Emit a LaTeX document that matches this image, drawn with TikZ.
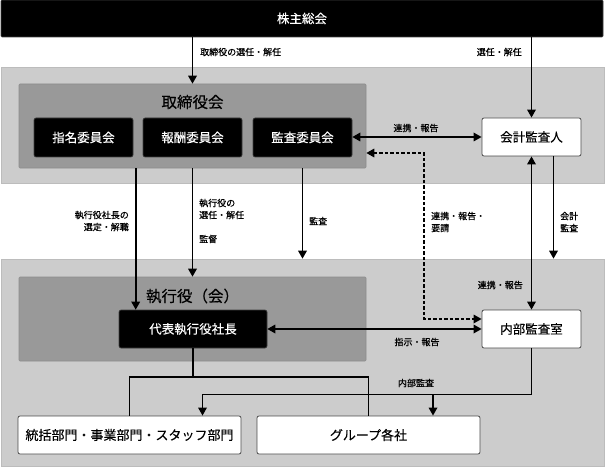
\documentclass[tikz,border=0pt]{standalone}
\usepackage{fontspec}
\newfontfamily\jpfont[FakeBold=0.3]{Noto Sans CJK JP}
\newfontfamily\jplblfont[FakeBold=0.6]{Noto Sans CJK JP}
\usetikzlibrary{arrows.meta}
\usetikzlibrary{calc}
\definecolor{bandgray}{HTML}{CCCCCC}
\definecolor{groupgray}{HTML}{999999}
\tikzset{%
    band/.style={fill=bandgray, draw=bandgray!92!black, line width=0.6pt, inner sep=0pt},
    groupbox/.style={fill=groupgray, draw=groupgray!92!black, line width=0.6pt, rounded corners=1pt, inner sep=0pt},
    blackbox/.style={fill=black, draw=black!75, line width=0.6pt, rounded corners=2pt, inner sep=0pt,
        text=white, font={\jpfont\fontsize{12.5}{14}\selectfont}},
    whitebox/.style={fill=white, draw=black!70, line width=0.8pt, rounded corners=2pt, inner sep=0pt,
        font={\jpfont\fontsize{12.5}{14}\selectfont}},
    grouptitle/.style={inner sep=0pt, font={\jpfont\fontsize{15.5}{18}\selectfont}},
    lbl/.style={inner sep=0pt, font={\jplblfont\fontsize{9}{12}\selectfont}},
    conn/.style={line width=1.7pt},
    arr/.style={conn, -{Triangle[length=8pt,width=8.5pt]}},
    biarr/.style={conn, {Triangle[length=8pt,width=8.5pt]}-{Triangle[length=8pt,width=8.5pt]}},
}

\begin{document}
\begin{tikzpicture}[x=1pt,y=-1pt]
\useasboundingbox (0,0) rectangle (605,468);
\node (band1) [band, minimum width=603pt, minimum height=116pt] at (302.5,125) {};
\node (band2) [band, minimum width=603pt, minimum height=207pt] at (302.5,362.5) {};
\node (gm) [blackbox, rounded corners=1pt, minimum width=602pt, minimum height=37pt] at (302,18.5) {株主総会};
\node (board) [groupbox, minimum width=347pt, minimum height=84pt] at (192.5,126) {};
\node (boardt) [grouptitle] at (192.5,102) {取締役会};
\node (nom) [blackbox, minimum width=99pt, minimum height=39pt] at (83.5,137.5) {指名委員会};
\node (rem) [blackbox, minimum width=99pt, minimum height=39pt] at (192.5,137.5) {報酬委員会};
\node (aud) [blackbox, minimum width=99pt, minimum height=39pt] at (302.5,137.5) {監査委員会};
\node (acc) [whitebox, minimum width=99pt, minimum height=38pt] at (531.5,137) {会計監査人};
\node (exec) [groupbox, minimum width=347pt, minimum height=84pt] at (192.5,319) {};
\node (exect) [grouptitle] at (192.5,296) {執行役（会）};
\node (ceo) [blackbox, minimum width=148pt, minimum height=38pt] at (193,329) {代表執行役社長};
\node (ia) [whitebox, minimum width=99pt, minimum height=38pt] at (531.5,329) {内部監査室};
\node (div) [whitebox, minimum width=223pt, minimum height=38pt, font={\jpfont\fontsize{13}{15}\selectfont}] at (129.5,435) {統括部門・事業部門・スタッフ部門};
\node (grp) [whitebox, minimum width=223pt, minimum height=38pt, font={\jpfont\fontsize{13}{15}\selectfont}] at (368.5,435) {グループ各社};

\coordinate (ceox) at ($(ceo.north west)+(17,0)$);
\coordinate (accr) at ($(acc.south)+(22,0)$);
\coordinate (dtop) at (424,153);
\coordinate (dbot) at (424,319);
\coordinate (split) at ($(ceo.south)+(0,29)$);
\coordinate (iaj) at ($(ia.south)+(0,46)$);
\coordinate (diva) at ($(div.north)+(73,0)$);
\coordinate (grpa) at ($(grp.north)+(64.5,0)$);

\draw [arr] (board.north |- gm.south) -- (board.north);
\draw [arr] (acc.north |- gm.south) -- (acc.north);
\draw [biarr] (aud.east |- acc.west) -- (acc.west);
\draw [conn, dash pattern=on 3.5pt off 2pt, {Triangle[length=8pt,width=8.5pt]}-{Triangle[length=8pt,width=8.5pt]}]
    (dtop -| board.east) -- (dtop) -- (dbot) -- (dbot -| ia.west);
\draw [arr] (board.south -| ceox) -- (ceox);
\draw [arr] (board.south) -- (exec.north);
\draw [arr] (board.south -| aud.south) -- (aud.south |- band2.north);
\draw [biarr] (acc.south -| ia.north) -- (ia.north);
\draw [arr] (accr) -- (accr |- band2.north);
\draw [biarr] (ceo.east) -- (ia.west);
\draw [conn] (ceo.south) -- (split) -| (div.north);
\draw [conn] (split) -| (grp.north);
\draw [arr] (ia.south) -- (iaj) -| (diva);
\draw [arr] (iaj -| grpa) -- (grpa);

\node (l1) [lbl, anchor=west] at (200,52) {取締役の選任・解任};
\node (l2) [lbl, anchor=east] at (522,52) {選任・解任};
\node (l3) [lbl] at (416,128) {連携・報告};
\node (l4) [lbl, anchor=east, align=right] at (129,221) {執行役社長の\\選定・解職};
\node (l5) [lbl, anchor=west, align=left] at (199,209) {執行役の\\選任・解任};
\node (l6) [lbl, anchor=west] at (199,239) {監督};
\node (l7) [lbl, anchor=west] at (309,221) {監査};
\node (l8) [lbl, anchor=west, align=left] at (431,222) {連携・報告・\\要請};
\node (l9) [lbl, anchor=west, align=left] at (560,222) {会計\\監査};
\node (l10) [lbl, anchor=east] at (523,285) {連携・報告};
\node (l11) [lbl] at (417,342) {指示・報告};
\node (l12) [lbl] at (416,383) {内部監査};
\end{tikzpicture}
\end{document}
